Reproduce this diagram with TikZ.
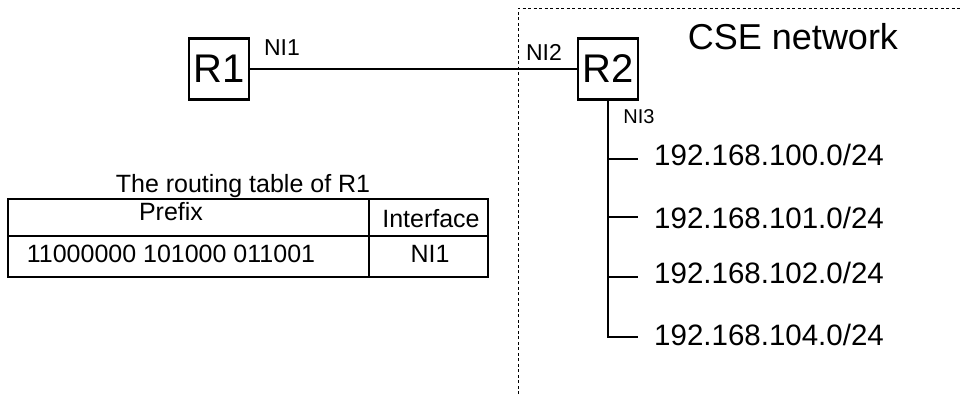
\documentclass[tikz,border=0pt]{standalone}
\usepackage{fontspec}
\setmainfont{Liberation Sans}
\begin{document}
\begin{tikzpicture}[x=1pt,y=-1pt,
  router/.style={draw, line width=2.6pt, minimum width=60pt, minimum height=61pt, inner sep=0pt, font=\fontsize{40}{40}\selectfont},
  lbl/.style={inner sep=0pt, anchor=base},
  wire/.style={line width=2.8pt},
  tline/.style={line width=1.2pt},
  region/.style={line width=0.9pt, dash pattern=on 3pt off 2.5pt}]
\useasboundingbox (0,0) rectangle (960,394);
% routers
\node[router] (r1) at (219,69) {R1};
\node[router] (r2) at (608,69) {R2};
\draw[wire] (r1.east) -- (r2.west);
% dashed CSE region
\coordinate (dtop) at (518,8);
\coordinate (dright) at (960,8);
\coordinate (dbot) at (518,394);
\draw[region] (dbot) -- (dtop) -- (dright);
\node[lbl, font=\fontsize{36}{36}\selectfont] (cse) at (793,49) {CSE network};
% interface labels
\node[lbl, font=\fontsize{23}{23}\selectfont] (ni1) at (282,55) {NI1};
\node[lbl, font=\fontsize{23}{23}\selectfont] (ni2) at (544,60) {NI2};
\node[lbl, font=\fontsize{20}{20}\selectfont] (ni3) at (639,123) {NI3};
% subnets
\node[lbl, anchor=base west, font=\fontsize{29.5}{29.5}\selectfont] (s1) at (654,165) {192.168.100.0/24};
\node[lbl, anchor=base west, font=\fontsize{29.5}{29.5}\selectfont] (s2) at (654,228) {192.168.101.0/24};
\node[lbl, anchor=base west, font=\fontsize{29.5}{29.5}\selectfont] (s3) at (654,283) {192.168.102.0/24};
\node[lbl, anchor=base west, font=\fontsize{29.5}{29.5}\selectfont] (s4) at (654,345) {192.168.104.0/24};
\coordinate (b1) at (608,159); \coordinate (e1) at (638,159);
\coordinate (b2) at (608,217); \coordinate (e2) at (638,217);
\coordinate (b3) at (608,277); \coordinate (e3) at (638,277);
\coordinate (b4) at (608,337); \coordinate (e4) at (638,337);
\draw[wire] (r2.south) -- (b4) -- (e4);
\draw[wire] (b1) -- (e1);
\draw[wire] (b2) -- (e2);
\draw[wire] (b3) -- (e3);
% routing table
\node[lbl, font=\fontsize{25}{25}\selectfont] (ttl) at (243,192) {The routing table of R1};
\draw[tline] (8,199) rectangle (488,277);
\draw[tline] (8,236) -- (488,236);
\draw[tline] (369,199) -- (369,277);
\node[lbl, font=\fontsize{25}{25}\selectfont] (hp) at (171,220) {Prefix};
\node[lbl, font=\fontsize{25}{25}\selectfont] (hi) at (431,227) {Interface};
\node[lbl, font=\fontsize{25}{25}\selectfont] (dp) at (171,262) {11000000 101000 011001};
\node[lbl, font=\fontsize{25}{25}\selectfont] (di) at (430,262) {NI1};
\end{tikzpicture}
\end{document}
